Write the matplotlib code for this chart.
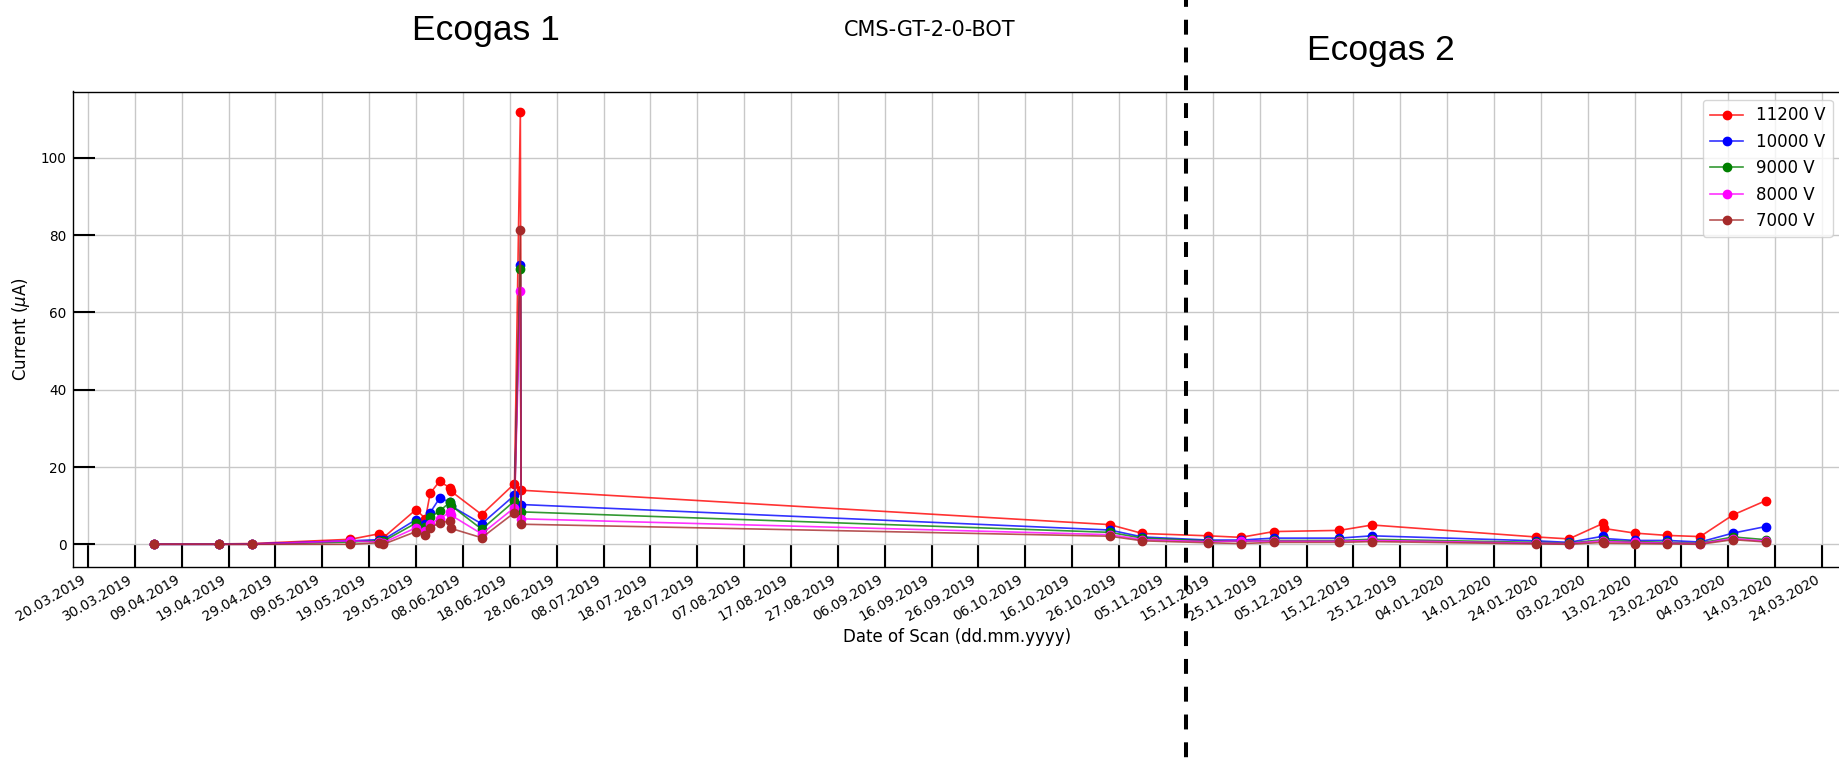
import matplotlib
matplotlib.use("Agg")
import matplotlib.pyplot as plt
import matplotlib.dates as mdates
from matplotlib.lines import Line2D
from matplotlib.colors import to_rgba
import pandas as pd

# ---------------- data ----------------
scan_dates = [
    "2019-04-03", "2019-04-17", "2019-04-24", "2019-05-15", "2019-05-21",
    "2019-05-22", "2019-05-29", "2019-05-31", "2019-06-01", "2019-06-03",
    "2019-06-05 06:00", "2019-06-05 12:00", "2019-06-12", "2019-06-19",
    "2019-06-20 06:00", "2019-06-20 10:00",
    "2019-10-24", "2019-10-31", "2019-11-14", "2019-11-21", "2019-11-28",
    "2019-12-12", "2019-12-19", "2020-01-23", "2020-01-30",
    "2020-02-06 06:00", "2020-02-06 12:00", "2020-02-13", "2020-02-20",
    "2020-02-27", "2020-03-05", "2020-03-12",
]

i_11200 = [0.1, 0.1, 0.2, 1.3, 2.7, 1.7, 9.0, 6.6, 13.2, 16.3, 14.6, 13.7, 7.7, 15.7,
           111.8, 14.0, 5.1, 2.8, 2.2, 1.8, 3.3, 3.6, 5.0, 1.9, 1.4, 5.4, 4.1, 2.9,
           2.3, 2.0, 7.6, 11.3]
i_10000 = [0.0, 0.0, 0.1, 0.9, 1.2, 1.2, 6.4, 5.2, 8.2, 11.9, 11.0, 9.9, 5.3, 12.7,
           72.3, 10.3, 3.7, 1.9, 1.1, 1.1, 1.6, 1.6, 2.2, 0.9, 0.5, 2.1, 1.5, 1.0,
           1.0, 0.6, 2.9, 4.6]
i_9000 = [0.0, 0.0, 0.0, 0.6, 0.9, 0.8, 5.5, 4.5, 7.0, 8.6, 10.9, 10.0, 3.9, 11.2,
          71.2, 8.4, 3.1, 1.6, 0.9, 0.8, 1.0, 1.0, 1.3, 0.5, 0.3, 1.2, 1.0, 0.7,
          0.5, 0.3, 1.9, 1.2]
i_8000 = [0.0, 0.0, 0.0, 0.9, 0.6, 0.4, 4.3, 3.4, 5.3, 6.6, 8.3, 7.5, 2.7, 9.5,
          65.5, 6.6, 2.5, 1.2, 0.7, 0.9, 0.8, 0.8, 1.0, 0.3, 0.2, 0.9, 0.7, 0.5,
          0.3, 0.2, 1.5, 0.8]
i_7000 = [0.0, 0.0, 0.0, 0.0, 0.4, 0.0, 3.3, 2.3, 4.2, 5.6, 6.0, 4.1, 1.7, 8.2,
          81.3, 5.2, 2.1, 0.9, 0.4, 0.2, 0.5, 0.5, 0.7, 0.1, 0.0, 0.5, 0.3, 0.2,
          0.1, 0.0, 1.2, 0.6]

series_labels = ["11200 V", "10000 V", "9000 V", "8000 V", "7000 V"]
series_colors = ["red", "blue", "green", "magenta", "brown"]
series_values = [i_11200, i_10000, i_9000, i_8000, i_7000]

y_ticks = [0, 20, 40, 60, 80, 100]
x_tick_start = "2019-03-20"
x_tick_end = "2020-03-24"

# ---------------- figure ----------------
W, H = 1839, 762
fig = plt.figure(figsize=(W / 100, H / 100), dpi=100)

ax_left, ax_right, ax_top, ax_bot = 72.7, 1841.0, 91.5, 566.6
ax = fig.add_axes([ax_left / W, 1 - ax_bot / H, (ax_right - ax_left) / W, (ax_bot - ax_top) / H])

dates = pd.to_datetime(scan_dates, format="mixed")
for vals, lab, col in zip(series_values, series_labels, series_colors):
    ax.plot(dates, vals, color=to_rgba(col, 0.8), lw=1.2, marker="o", markersize=6,
            markerfacecolor=col, markeredgecolor=col, label=lab, zorder=3)

t0 = pd.Timestamp(x_tick_start)
ax.set_xlim(t0 - pd.Timedelta(days=3.27), t0 + pd.Timedelta(days=374.05))
ax.set_ylim(-5.77, 117.2)

xt = pd.date_range(x_tick_start, x_tick_end, freq="10D")
ax.set_xticks(xt)
ax.xaxis.set_major_formatter(mdates.DateFormatter("%d.%m.%Y"))
ax.set_yticks(y_ticks)
for lbl in ax.get_xticklabels():
    lbl.set_rotation(30)
    lbl.set_ha("right")

ax.tick_params(axis="both", direction="in", length=15.6, width=1.5, labelsize=9.8,
               colors="black")
ax.tick_params(axis="x", pad=4)
ax.tick_params(axis="y", pad=4.5)

ax.grid(True, color="#c8c8c8", linewidth=1.0)
ax.set_axisbelow(True)
for s in ["left", "bottom", "top"]:
    ax.spines[s].set_color("black")
    ax.spines[s].set_linewidth(1.0)
ax.spines["right"].set_visible(False)

ax.legend(loc="upper right", fontsize=12, framealpha=0.8)

fig.text(21 / W, 1 - 329 / H, r"Current ($\mu$A)", rotation=90, ha="center", va="center",
         fontsize=12)
fig.text(957 / W, 1 - 637 / H, "Date of Scan (dd.mm.yyyy)", ha="center", va="center",
         fontsize=12)
fig.text(929.5 / W, 1 - 35.7 / H, "CMS-GT-2-0-BOT", ha="center", va="baseline",
         fontsize=15)

fig.text(412 / W, 1 - 40 / H, "Ecogas 1", ha="left", va="baseline", fontsize=25.5,
         family="Liberation Sans")
fig.text(1307 / W, 1 - 60 / H, "Ecogas 2", ha="left", va="baseline", fontsize=25.5,
         family="Liberation Sans")

fig.add_artist(Line2D([1186 / W, 1186 / W], [1, 0], transform=fig.transFigure,
                      color="black", lw=2.9, linestyle=(2.0, (3.7, 3.2)), zorder=10))

fig.savefig("out.png", dpi=100)
